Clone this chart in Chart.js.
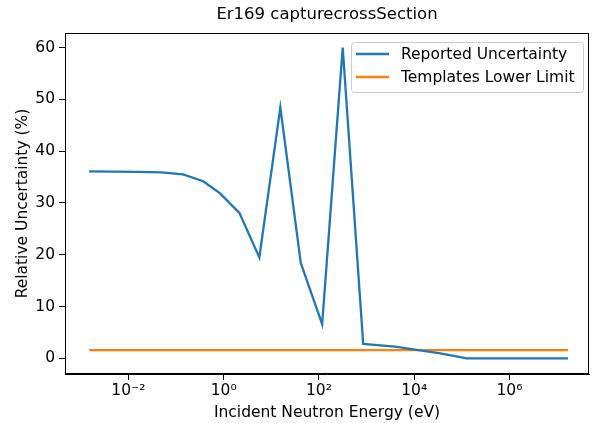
<!DOCTYPE html>
<html lang="en">
<head>
    <meta charset="UTF-8">
    <title>Er169 capturecrossSection</title>
    <script src="https://cdn.jsdelivr.net/npm/chart.js"></script>
    <style>
        html, body { margin: 0; padding: 0; background: #fff; }
        #wrap { width: 596px; height: 423px; }
    </style>
</head>
<body>
<div id="wrap"><canvas id="myChart"></canvas></div>
<script>
    // energies (eV) and relative uncertainty (%)
    const energies = [0.00151, 0.016, 0.05, 0.141, 0.372, 0.832, 2.14, 5.62, 15.5, 41.7, 117, 316, 851, 3980, 35500, 126000, 1.7e7];
    const reported = [36.1, 36.0, 35.9, 35.5, 34.2, 31.9, 28.1, 19.5, 48.4, 18.4, 6.6, 60.0, 2.8, 2.3, 1.0, 0.0, 0.0];
    const limitEnergies = [0.00151, 1.7e7];
    const limitValues = [1.6, 1.6];

    const seriesLabels = ['Reported Uncertainty', 'Templates Lower Limit'];
    const seriesColors = ['#1f77b4', '#ff7f0e'];

    const xTickValues = [1e-2, 1e0, 1e2, 1e4, 1e6];
    const xTickLabels = ['10\u207B\u00B2', '10\u2070', '10\u00B2', '10\u2074', '10\u2076'];
    const yTickValues = [0, 10, 20, 30, 40, 50, 60];

    const font = 'DejaVu Sans';
    const fontSize = 15.5;
    const chartTitle = 'Er169 capturecrossSection';

    // frame around the plot, title over the axes and the legend box
    const framePlugin = {
        id: 'frame',
        afterDraw(chart) {
            const {ctx, chartArea: a} = chart;
            ctx.save();
            ctx.strokeStyle = '#000';
            ctx.lineWidth = 1;
            ctx.strokeRect(a.left + 0.5, a.top + 0.5, a.right - a.left - 1, a.bottom - a.top - 1);

            ctx.fillStyle = '#000';
            ctx.font = '16.5px "' + font + '"';
            ctx.textAlign = 'center';
            ctx.textBaseline = 'middle';
            ctx.fillText(chartTitle, (a.left + a.right) / 2, 15);

            // legend
            const bx = 351, by = 42, bw = 232, bh = 50;
            ctx.beginPath();
            ctx.roundRect(bx + 0.5, by + 0.5, bw, bh, 3);
            ctx.fillStyle = 'rgba(255,255,255,0.8)';
            ctx.fill();
            ctx.strokeStyle = '#cccccc';
            ctx.stroke();
            ctx.font = fontSize + 'px "' + font + '"';
            ctx.textAlign = 'left';
            ctx.fillStyle = '#000';
            seriesLabels.forEach((lab, i) => {
                const y = 54 + i * 23;
                ctx.beginPath();
                ctx.strokeStyle = seriesColors[i];
                ctx.lineWidth = 2.3;
                ctx.moveTo(356, y);
                ctx.lineTo(389, y);
                ctx.stroke();
                ctx.fillText(lab, 401, y + 1);
            });
            ctx.restore();
        }
    };

    const ctx = document.getElementById('myChart').getContext('2d');
    new Chart(ctx, {
        type: 'line',
        data: {
            datasets: [{
                label: seriesLabels[0],
                data: energies.map((e, i) => ({x: e, y: reported[i]})),
                borderColor: seriesColors[0],
                borderWidth: 2.3,
                pointRadius: 0,
                tension: 0,
                fill: false
            }, {
                label: seriesLabels[1],
                data: limitEnergies.map((e, i) => ({x: e, y: limitValues[i]})),
                borderColor: seriesColors[1],
                borderWidth: 2.3,
                pointRadius: 0,
                fill: false
            }]
        },
        options: {
            responsive: true,
            maintainAspectRatio: false,
            animation: false,
            layout: { padding: { left: 0, right: 7, top: 33, bottom: 0 } },
            plugins: {
                legend: { display: false },
                tooltip: { enabled: false },
                title: { display: false }
            },
            scales: {
                x: {
                    type: 'logarithmic',
                    min: Math.pow(10, -3.33),
                    max: Math.pow(10, 7.67),
                    afterBuildTicks(scale) {
                        scale.ticks = xTickValues.map(v => ({value: v}));
                    },
                    afterFit(scale) { scale.height = 49; },
                    ticks: {
                        color: '#000',
                        font: { family: font, size: fontSize },
                        padding: 2,
                        maxRotation: 0,
                        autoSkip: false,
                        callback: (v) => xTickLabels[xTickValues.indexOf(v)] ?? ''
                    },
                    grid: { drawOnChartArea: false, color: '#000', tickLength: 6 },
                    border: { color: '#000' },
                    title: {
                        display: true,
                        text: 'Incident Neutron Energy (eV)',
                        color: '#000',
                        font: { family: font, size: fontSize },
                        padding: { top: 0, bottom: 1 }
                    }
                },
                y: {
                    min: -3,
                    max: 62.8,
                    afterBuildTicks(scale) {
                        scale.ticks = yTickValues.map(v => ({value: v}));
                    },
                    afterFit(scale) { scale.width = 65; },
                    ticks: {
                        color: '#000',
                        font: { family: font, size: fontSize },
                        padding: 4
                    },
                    grid: { drawOnChartArea: false, color: '#000', tickLength: 6 },
                    border: { color: '#000' },
                    title: {
                        display: true,
                        text: 'Relative Uncertainty (%)',
                        color: '#000',
                        font: { family: font, size: fontSize },
                        padding: { top: 14, bottom: 0 }
                    }
                }
            }
        },
        plugins: [framePlugin]
    });
</script>
</body>
</html>
